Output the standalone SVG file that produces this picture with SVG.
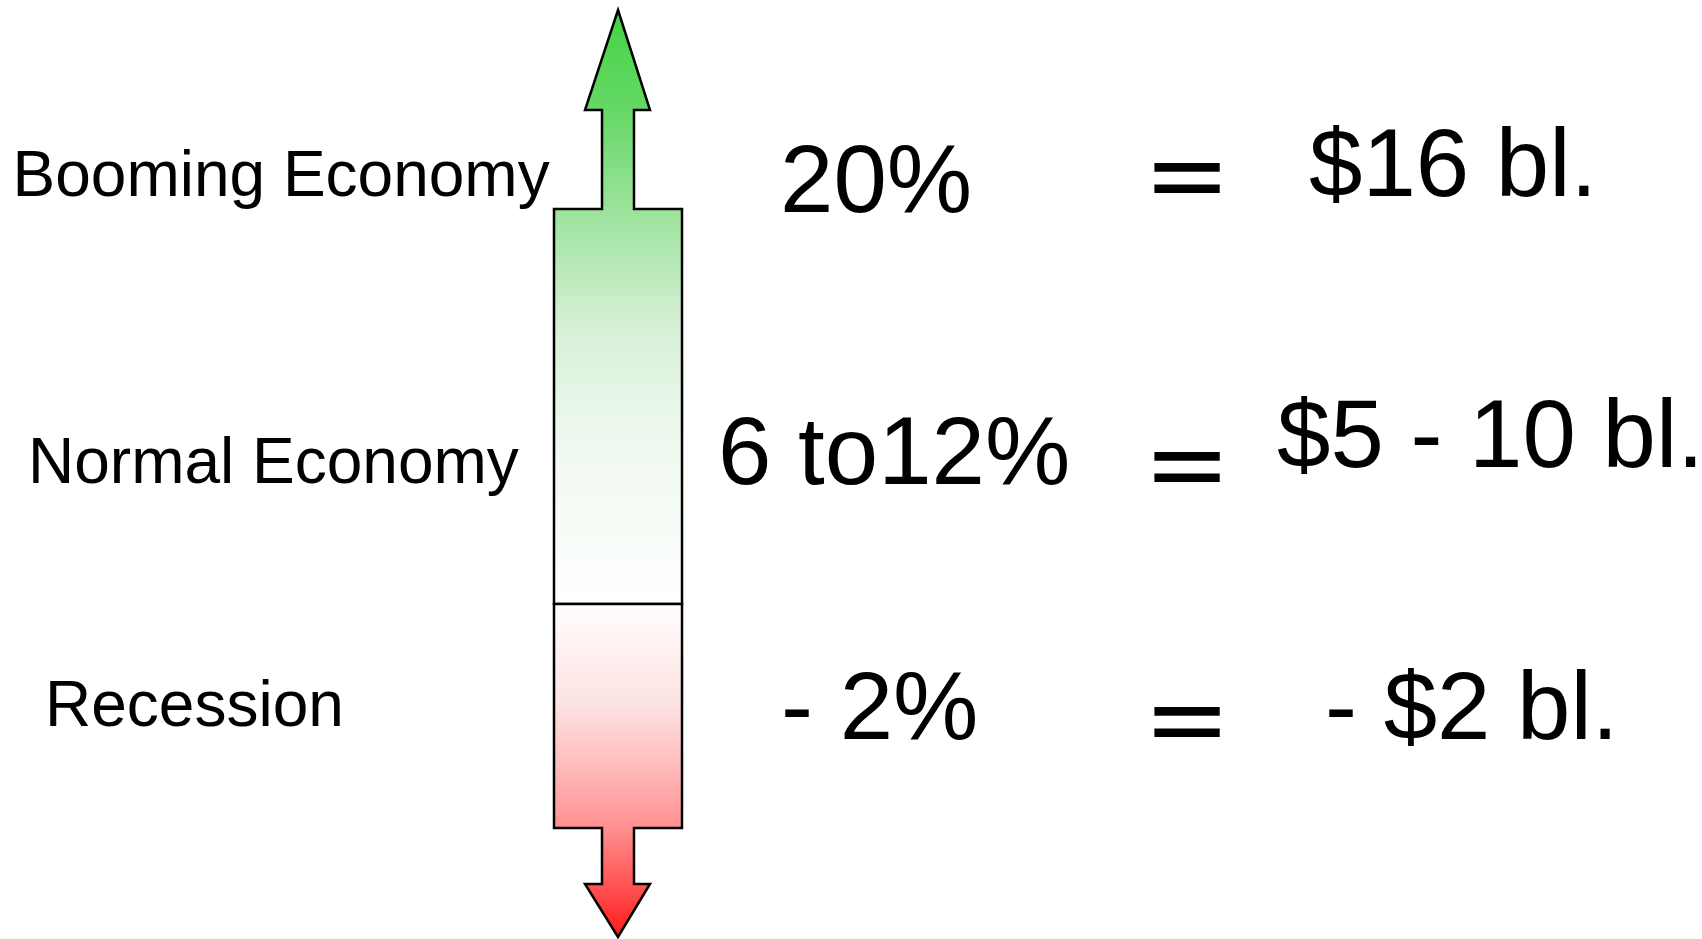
<svg xmlns="http://www.w3.org/2000/svg" width="1702" height="939" viewBox="0 0 1702 939">
<style>
text{font-family:"Liberation Sans",Arial,sans-serif;fill:#000}
.lbl{font-size:64px}
.big{font-size:96px}
.eq{font-size:79px;font-weight:bold}
.shape{stroke:#000;stroke-width:2.5;stroke-linejoin:miter}
</style>
<defs>
<linearGradient id="gUp" gradientUnits="userSpaceOnUse" x1="0" y1="10" x2="0" y2="604">
<stop offset="0" stop-color="#44d444"/>
<stop offset="0.17" stop-color="#66d866"/>
<stop offset="0.335" stop-color="#9be39b"/>
<stop offset="0.53" stop-color="#d6f0d6"/>
<stop offset="0.72" stop-color="#eef8ee"/>
<stop offset="1" stop-color="#ffffff"/>
</linearGradient>
<linearGradient id="gDown" gradientUnits="userSpaceOnUse" x1="0" y1="604" x2="0" y2="937">
<stop offset="0" stop-color="#fffdfd"/>
<stop offset="0.3" stop-color="#fde2e2"/>
<stop offset="0.47" stop-color="#ffc0c0"/>
<stop offset="0.67" stop-color="#ff9090"/>
<stop offset="0.84" stop-color="#ff5555"/>
<stop offset="1" stop-color="#ff1a1a"/>
</linearGradient>
</defs>
<g id="scale-arrow">
<polygon id="upper" class="shape" fill="url(#gUp)" points="618,10 650,110 634,110 634,209 682,209 682,604 554,604 554,209 602,209 602,110 585,110"/>
<polygon id="lower" class="shape" fill="url(#gDown)" points="554,604 682,604 682,828 634,828 634,884 650,884 618,937 585,884 602,884 602,828 554,828"/>
</g>
<g id="row-booming">
<text class="lbl" x="12.5" y="196">Booming Economy</text>
<text class="big" x="780" y="212">20%</text>
<text class="eq" transform="translate(1149,204.4) scale(1.65,1)">=</text>
<text class="big" x="1309" y="196">$16 bl.</text>
</g>
<g id="row-normal">
<text class="lbl" x="28" y="483">Normal Economy</text>
<text class="big" x="718" y="484">6 to12%</text>
<text class="eq" transform="translate(1149,492.7) scale(1.65,1)">=</text>
<text class="big" x="1277" y="467">$5 - 10 bl.</text>
</g>
<g id="row-recession">
<text class="lbl" x="45" y="726">Recession</text>
<text class="big" x="781" y="739">- 2%</text>
<text class="eq" transform="translate(1149,747.5) scale(1.65,1)">=</text>
<text class="big" x="1325" y="739">- $2 bl.</text>
</g>
</svg>
